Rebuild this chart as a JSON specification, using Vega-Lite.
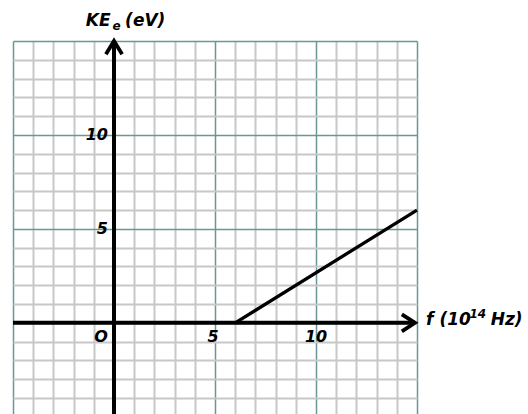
{
  "$schema": "https://vega.github.io/schema/vega-lite/v6.json",
  "width": 404,
  "height": 373,
  "autosize": {"type": "none"},
  "padding": {"left": 13, "top": 41, "right": 111, "bottom": 0},
  "background": "white",
  "config": {"view": {"stroke": null}},
  "layer": [
    {
      "data": {"values": [{"x": 6, "y": 0}, {"x": 15, "y": 6}]},
      "mark": {"type": "line", "color": "black", "strokeWidth": 3.3, "clip": false},
      "encoding": {
        "x": {
          "field": "x", "type": "quantitative",
          "scale": {"domain": [-5, 15], "nice": false, "zero": false},
          "axis": {
            "title": null, "labels": false, "ticks": false, "domain": false,
            "tickCount": 40,
            "values": [-5,-4,-3,-2,-1,0,1,2,3,4,5,6,7,8,9,10,11,12,13,14,15],
            "gridColor": {"condition": {"test": "datum.value % 5 === 0", "value": "#6a9696"}, "value": "#c8c8c8"},
            "gridWidth": {"condition": {"test": "datum.value % 5 === 0", "value": 1.5}, "value": 2},
            "gridOpacity": 1
          }
        },
        "y": {
          "field": "y", "type": "quantitative",
          "scale": {"domain": [-4.85, 15], "nice": false, "zero": false},
          "axis": {
            "title": null, "labels": false, "ticks": false, "domain": false,
            "tickCount": 40,
            "values": [-4,-3,-2,-1,0,1,2,3,4,5,6,7,8,9,10,11,12,13,14,15],
            "gridColor": {"condition": {"test": "datum.value % 5 === 0", "value": "#6a9696"}, "value": "#c8c8c8"},
            "gridWidth": {"condition": {"test": "datum.value % 5 === 0", "value": 1.5}, "value": 2},
            "gridOpacity": 1
          }
        }
      }
    },
    {
      "data": {"values": [
        {"x": 0, "y": -4.85, "x2": 0, "y2": 15},
        {"x": -5, "y": 0, "x2": 14.9, "y2": 0}
      ]},
      "mark": {"type": "rule", "color": "black", "strokeWidth": 4, "clip": false},
      "encoding": {
        "x": {"field": "x", "type": "quantitative"},
        "y": {"field": "y", "type": "quantitative"},
        "x2": {"field": "x2"},
        "y2": {"field": "y2"}
      }
    },
    {
      "data": {"values": [
        {"arrow": "y", "i": 0, "x": -0.4, "y": 14.3},
        {"arrow": "y", "i": 1, "x": 0, "y": 15},
        {"arrow": "y", "i": 2, "x": 0.4, "y": 14.3},
        {"arrow": "x", "i": 0, "x": 14.25, "y": 0.45},
        {"arrow": "x", "i": 1, "x": 14.9, "y": 0},
        {"arrow": "x", "i": 2, "x": 14.25, "y": -0.45}
      ]},
      "mark": {"type": "line", "color": "black", "strokeWidth": 3.8, "strokeJoin": "miter", "clip": false},
      "encoding": {
        "x": {"field": "x", "type": "quantitative"},
        "y": {"field": "y", "type": "quantitative"},
        "detail": {"field": "arrow"},
        "order": {"field": "i"}
      }
    },
    {
      "data": {"values": [
        {"label": "10", "x": -0.3, "y": 10},
        {"label": "5", "x": -0.3, "y": 5},
        {"label": "O", "x": -0.3, "y": -0.75}
      ]},
      "mark": {"type": "text", "align": "right", "baseline": "middle", "font": "DejaVu Sans", "fontSize": 16, "fontWeight": "bold", "fontStyle": "italic", "color": "black"},
      "encoding": {
        "x": {"field": "x", "type": "quantitative"},
        "y": {"field": "y", "type": "quantitative"},
        "text": {"field": "label"}
      }
    },
    {
      "data": {"values": [
        {"label": "5", "x": 4.9, "y": -0.75},
        {"label": "10", "x": 10, "y": -0.75}
      ]},
      "mark": {"type": "text", "align": "center", "baseline": "middle", "font": "DejaVu Sans", "fontSize": 16, "fontWeight": "bold", "fontStyle": "italic", "color": "black"},
      "encoding": {
        "x": {"field": "x", "type": "quantitative"},
        "y": {"field": "y", "type": "quantitative"},
        "text": {"field": "label"}
      }
    },
    {
      "data": {"values": [
        {"label": "KE", "x": -1.4, "y": 16.05},
        {"label": "(eV)", "x": 0.55, "y": 16.05},
        {"label": "f (10", "x": 15.45, "y": 0.15},
        {"label": "Hz)", "x": 18.65, "y": 0.15}
      ]},
      "mark": {"type": "text", "align": "left", "baseline": "middle", "font": "DejaVu Sans", "fontSize": 17, "fontWeight": "bold", "fontStyle": "italic", "color": "black", "clip": false},
      "encoding": {
        "x": {"field": "x", "type": "quantitative"},
        "y": {"field": "y", "type": "quantitative"},
        "text": {"field": "label"}
      }
    },
    {
      "data": {"values": [
        {"label": "e", "x": -0.08, "y": 15.8},
        {"label": "14", "x": 17.6, "y": 0.45}
      ]},
      "mark": {"type": "text", "align": "left", "baseline": "middle", "font": "DejaVu Sans", "fontSize": 12, "fontWeight": "bold", "fontStyle": "italic", "color": "black", "clip": false},
      "encoding": {
        "x": {"field": "x", "type": "quantitative"},
        "y": {"field": "y", "type": "quantitative"},
        "text": {"field": "label"}
      }
    }
  ]
}
